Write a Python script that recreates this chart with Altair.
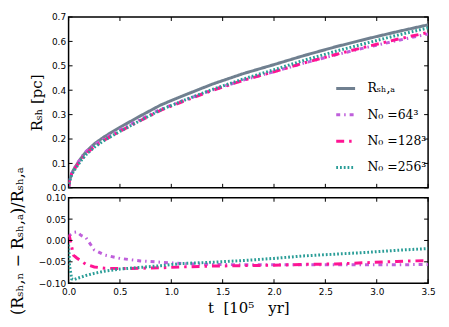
import altair as alt
import pandas as pd

# ---- data ----
t_vals = [0.0, 0.01, 0.03, 0.05, 0.08, 0.12, 0.17, 0.25, 0.35, 0.5, 0.7, 0.9,
          1.1, 1.4, 1.7, 2.0, 2.3, 2.6, 2.9, 3.2, 3.5]
R_analytic = [0.0, 0.03, 0.058, 0.075, 0.095, 0.121, 0.148, 0.18, 0.21, 0.248,
              0.295, 0.34, 0.375, 0.425, 0.468, 0.505, 0.543, 0.578, 0.61, 0.64, 0.668]
rel_64 = [0.008, 0.012, 0.016, 0.019, 0.02, 0.012, 0.006, -0.022, -0.034, -0.042,
          -0.048, -0.051, -0.054, -0.056, -0.057, -0.057, -0.057, -0.057, -0.057, -0.057, -0.056]
rel_128 = [0.013, 0.008, -0.015, -0.035, -0.041, -0.048, -0.056, -0.062, -0.065, -0.066,
           -0.065, -0.064, -0.062, -0.060, -0.059, -0.058, -0.056, -0.055, -0.052, -0.049, -0.047]
rel_256 = [-0.01, -0.06, -0.09, -0.092, -0.089, -0.086, -0.082, -0.077, -0.072, -0.067,
           -0.063, -0.059, -0.054, -0.051, -0.047, -0.042, -0.036, -0.032, -0.028, -0.023, -0.019]

x_ticks = [0.0, 0.5, 1.0, 1.5, 2.0, 2.5, 3.0, 3.5]
y_ticks_top = [0.0, 0.1, 0.2, 0.3, 0.4, 0.5, 0.6, 0.7]
y_ticks_bot = [-0.10, -0.05, 0.0, 0.05, 0.10]

labels = ["Rₛₕ,ₐ", "N₀ =64³", "N₀ =128³", "N₀ =256³"]
colors = ["#708090", "#BF5FDB", "#FF1493", "#2A9D97"]
dashes = [[1, 0], [4, 4, 1.5, 4], [8, 5, 2.5, 5], [1.8, 2]]

NB = "\u00a0"
x_title = f"t{NB}{NB}[10⁵{NB}{NB}{NB}yr]"

# ---- tables ----
rows_top = []
rows_bot = []
for i, t in enumerate(t_vals):
    rows_top.append({"series": labels[0], "t": t, "R": R_analytic[i]})
    for lab, rel in zip(labels[1:], [rel_64, rel_128, rel_256]):
        rows_top.append({"series": lab, "t": t, "R": R_analytic[i] * (1 + rel[i])})
        rows_bot.append({"series": lab, "t": t, "rel": rel[i]})
top_df = pd.DataFrame(rows_top)
bot_df = pd.DataFrame(rows_bot)

W, H1, H2 = 362, 172, 86
TL = 4  # inward tick length

color_scale = alt.Scale(domain=labels, range=colors)
dash_scale = alt.Scale(domain=labels, range=dashes)
xscale = alt.Scale(domain=[0, 3.5], nice=False, zero=False)

legend = alt.Legend(title=None, orient="none", legendX=268, legendY=61,
                    symbolType="stroke", symbolSize=361, symbolStrokeWidth=3,
                    labelFont="DejaVu Serif", labelFontSize=12.5, labelOffset=11,
                    rowPadding=8.5, labelColor="black")


def tick_layers(yfield, yticks, H):
    xt = pd.DataFrame({"t": x_ticks})
    yt = pd.DataFrame({yfield: yticks})
    base_x = alt.Chart(xt).mark_rule(color="black", strokeWidth=1)
    base_y = alt.Chart(yt).mark_rule(color="black", strokeWidth=1)
    xe = alt.X("t:Q", axis=None)
    ye = alt.Y(f"{yfield}:Q", axis=None)
    return [
        base_x.encode(x=xe, y=alt.value(H), y2=alt.value(H - TL)),
        base_x.encode(x=xe, y=alt.value(0), y2=alt.value(TL)),
        base_y.encode(y=ye, x=alt.value(0), x2=alt.value(TL)),
        base_y.encode(y=ye, x=alt.value(W - TL), x2=alt.value(W)),
    ]


top_lines = alt.Chart(top_df).mark_line(strokeWidth=3, clip=True).encode(
    x=alt.X("t:Q", scale=xscale, axis=None),
    y=alt.Y("R:Q", scale=alt.Scale(domain=[0, 0.7], nice=False),
            axis=alt.Axis(values=y_ticks_top, format=".1f", title=f"Rₛₕ{NB}[pc]",
                          titleFontSize=15, titlePadding=7, labelPadding=3)),
    color=alt.Color("series:N", scale=color_scale, legend=legend),
    strokeDash=alt.StrokeDash("series:N", scale=dash_scale, legend=legend),
)
top = alt.layer(top_lines, *tick_layers("R", y_ticks_top, H1)).resolve_axis(
    x="independent", y="independent").properties(width=W, height=H1)

bot_lines = alt.Chart(bot_df).mark_line(strokeWidth=3, clip=True).encode(
    x=alt.X("t:Q", scale=xscale,
            axis=alt.Axis(values=x_ticks, format=".1f", title=x_title,
                          titleFontSize=15, labelPadding=4, titlePadding=5)),
    y=alt.Y("rel:Q", scale=alt.Scale(domain=[-0.1, 0.1], nice=False, zero=False),
            axis=alt.Axis(values=y_ticks_bot, format=".2f",
                          title=f"(Rₛₕ,ₙ{NB}−{NB}Rₛₕ,ₐ)/Rₛₕ,ₐ",
                          titleFontSize=16, titlePadding=13, labelPadding=3)),
    color=alt.Color("series:N", scale=color_scale, legend=None),
    strokeDash=alt.StrokeDash("series:N", scale=dash_scale, legend=None),
)
bot = alt.layer(bot_lines, *tick_layers("rel", y_ticks_bot, H2)).resolve_axis(
    x="independent", y="independent").properties(width=W, height=H2)

chart = alt.vconcat(top, bot, spacing=10, bounds="flush").resolve_legend(
    color="independent", strokeDash="independent"
).properties(
    padding={"left": 0, "top": 3, "right": 5, "bottom": 0}
).configure_view(
    stroke="black", strokeWidth=1.5
).configure_axis(
    labelFont="DejaVu Sans", labelFontSize=9, labelColor="black",
    titleFont="DejaVu Serif", titleFontWeight="normal", titleColor="black",
    ticks=False, domain=False, grid=False, labelFlush=False
)

chart.save("out.html", embed_options={"renderer": "svg", "actions": False})
